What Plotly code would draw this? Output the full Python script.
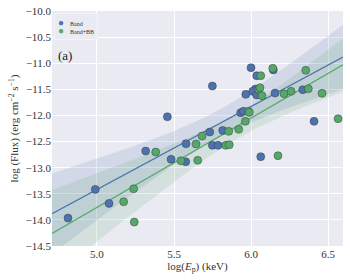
import numpy as np
import plotly.graph_objects as go

# Data
band_x = [4.812, 4.989, 5.078, 5.316, 5.457, 5.481, 5.576, 5.578, 5.732, 5.749,
          5.749, 5.786, 5.816, 5.933, 5.950, 5.966, 6.000, 6.028, 6.011, 6.037,
          6.037, 6.063, 6.145, 6.156, 6.336, 6.409]
band_y = [-13.966, -13.416, -13.684, -12.682, -12.025, -12.840, -12.887, -12.542, -12.318, -11.437,
          -12.573, -12.573, -12.286, -11.948, -11.920, -11.596, -11.086, -11.494, -11.539, -11.239,
          -11.609, -12.790, -11.130, -11.571, -11.507, -12.113]

bb_x = [5.173, 5.238, 5.242, 5.381, 5.545, 5.654, 5.643, 5.682, 5.836, 5.859,
        5.855, 5.920, 5.963, 5.982, 5.989, 6.050, 6.058, 6.063, 6.071, 6.141,
        6.175, 6.214, 6.260, 6.355, 6.372, 6.461, 6.565]
bb_y = [-13.653, -13.404, -14.042, -12.700, -12.868, -12.860, -12.548, -12.395, -12.573, -12.561,
        -12.305, -12.266, -12.113, -11.920, -11.940, -11.500, -11.469, -11.239, -11.622, -11.098,
        -12.770, -11.584, -11.539, -11.136, -11.488, -11.577, -12.063]

series_names = ["Band", "Band+BB"]
x_range = [4.708, 6.597]
y_range = [-14.5, -10.0]
x_ticks = [5.0, 5.5, 6.0, 6.5]
y_ticks = [-10.0, -10.5, -11.0, -11.5, -12.0, -12.5, -13.0, -13.5, -14.0, -14.5]

BLUE = "#4C72B0"
GREEN = "#55A868"


def fit_band(x, y, grid, t=2.9):
    x = np.asarray(x); y = np.asarray(y)
    n = len(x)
    b, a = np.polyfit(x, y, 1)
    yhat = a + b * grid
    resid = y - (a + b * x)
    s = np.sqrt(np.sum(resid ** 2) / (n - 2))
    sxx = np.sum((x - x.mean()) ** 2)
    half = t * s * np.sqrt(1.0 / n + (grid - x.mean()) ** 2 / sxx)
    return yhat, yhat - half, yhat + half


grid = np.linspace(x_range[0], x_range[1], 100)

fig = go.Figure()

for xs, ys, fill in [(band_x, band_y, "rgba(76,114,176,0.15)"),
                     (bb_x, bb_y, "rgba(85,168,104,0.15)")]:
    yhat, lo, hi = fit_band(xs, ys, grid)
    fig.add_trace(go.Scatter(x=np.concatenate([grid, grid[::-1]]),
                             y=np.concatenate([hi, lo[::-1]]),
                             fill="toself", fillcolor=fill, line=dict(width=0),
                             mode="lines", hoverinfo="skip", showlegend=False))

for xs, ys, col in [(band_x, band_y, BLUE), (bb_x, bb_y, GREEN)]:
    yhat, lo, hi = fit_band(xs, ys, grid)
    fig.add_trace(go.Scatter(x=grid, y=yhat, mode="lines",
                             line=dict(color=col, width=1.3), showlegend=False))

for xs, ys, col, nm in [(band_x, band_y, BLUE, series_names[0]),
                        (bb_x, bb_y, GREEN, series_names[1])]:
    fig.add_trace(go.Scatter(x=xs, y=ys, mode="markers", name=nm, showlegend=False,
                             marker=dict(color=col, size=8,
                                         line=dict(color="rgba(60,60,60,0.8)", width=0.6))))

serif = "Liberation Serif, DejaVu Serif, serif"

legend_text = (f"<span style='color:{BLUE};font-size:10px'>●</span>    {series_names[0]}<br>"
               f"<span style='color:{GREEN};font-size:10px'>●</span>    {series_names[1]}")

fig.update_layout(
    width=350, height=280,
    margin=dict(l=52, r=7, t=11, b=34),
    paper_bgcolor="white", plot_bgcolor="#EAEAF2",
    font=dict(family=serif, size=11, color="#333"),
    showlegend=False,
    annotations=[
        dict(text=legend_text, x=0.006, y=0.992, xref="paper", yref="paper",
             xanchor="left", yanchor="top", align="left", showarrow=False,
             bgcolor="rgba(234,234,242,0.9)", bordercolor="#f4f4f8", borderwidth=1,
             borderpad=3, font=dict(size=6, family=serif, color="#333")),
        dict(text="(a)", x=0.045, y=0.81, xref="paper", yref="paper",
             xanchor="center", yanchor="middle",
             showarrow=False, font=dict(size=13, family=serif, color="#222")),
    ],
)
fig.update_xaxes(range=x_range, tickvals=x_ticks, tickformat=".1f", automargin=False,
                 showgrid=True, gridcolor="white", gridwidth=1, zeroline=False,
                 showline=False, ticks="",
                 title=dict(text="log(<i>E</i><sub>p</sub>) (keV)", standoff=2,
                            font=dict(size=11, family=serif)))
fig.update_yaxes(range=y_range, tickvals=y_ticks, tickformat=".1f", automargin=False,
                 showgrid=True, gridcolor="white", gridwidth=1, zeroline=False,
                 showline=False, ticks="",
                 title=dict(text="log (Flux) (erg cm<sup>−2</sup> s<sup>−1</sup>)", standoff=4,
                            font=dict(size=11, family=serif)))

fig.write_html("out.html", config={"displayModeBar": False},
               post_script="document.body.style.margin='0';")
